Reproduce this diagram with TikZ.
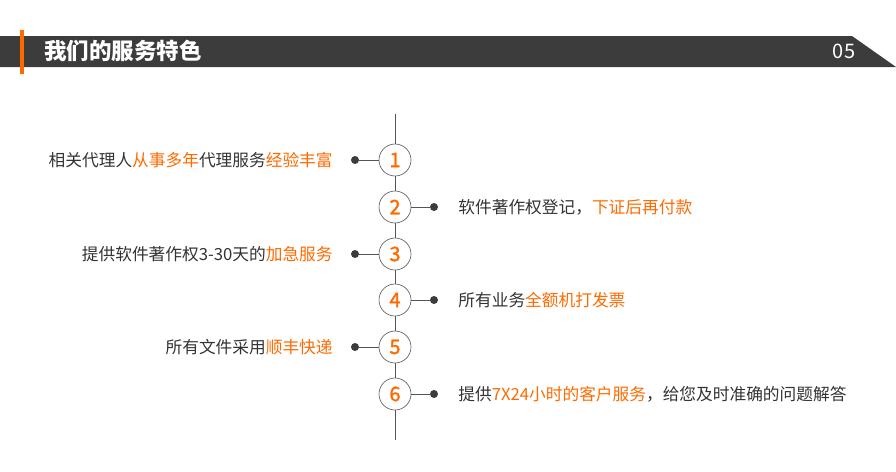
\documentclass[tikz,border=0pt]{standalone}
\usepackage{fontspec}
\setmainfont{Noto Sans CJK SC}
\newfontfamily\numfont[FakeBold=1.5]{Noto Sans CJK SC}
\usetikzlibrary{positioning}
\definecolor{barGray}{HTML}{3C3C3C}
\definecolor{accent}{HTML}{FF6A00}
\definecolor{textGray}{HTML}{333333}
\definecolor{lineGray}{HTML}{555555}
\newcommand{\hl}[1]{\textcolor{accent}{#1}}

\begin{document}
\begin{tikzpicture}[x=1pt,y=-1pt,
  stepcircle/.style={circle,draw=lineGray,line width=0.6pt,fill=white,minimum size=32pt,inner sep=0pt,
    font=\numfont\fontsize{20}{20}\selectfont,text=accent},
  dot/.style={circle,fill=barGray,minimum size=8pt,inner sep=0pt},
  item/.style={font=\fontsize{16.7}{16.7}\selectfont,text=textGray,inner sep=0pt}]
\useasboundingbox (0,0) rectangle (896,471);

% Header bar with orange marker
\fill[barGray] (0,36) -- (852,36) -- (896,67) -- (0,67) -- cycle;
\fill[accent] (20,30) rectangle (24,74);
\node[anchor=west,inner sep=0pt,text=white,font=\fontsize{22.5}{22.5}\selectfont\bfseries] (title) at (44,51) {我们的服务特色};
\node[text=white,font=\fontsize{20}{20}\selectfont] (page) at (844,51) {05};

% Spine
\coordinate (top) at (395,114);
\coordinate (bot) at (395,440);
\draw[lineGray,line width=0.6pt] (top) -- (bot);

% Steps
\node[stepcircle] (c1) at (395,160) {1};
\node[stepcircle] (c2) at (395,207) {2};
\node[stepcircle] (c3) at (395,254) {3};
\node[stepcircle] (c4) at (395,300) {4};
\node[stepcircle] (c5) at (395,347) {5};
\node[stepcircle] (c6) at (395,394) {6};

% Left items
\node[dot] (l1) at (355,160) {};
\node[dot] (l3) at (355,254) {};
\node[dot] (l5) at (355,347) {};
\draw[lineGray,line width=0.6pt] (l1) -- (c1);
\draw[lineGray,line width=0.6pt] (l3) -- (c3);
\draw[lineGray,line width=0.6pt] (l5) -- (c5);
\node[item,left=18pt of l1] (t1) {相关代理人\hl{从事多年}代理服务\hl{经验丰富}};
\node[item,left=18pt of l3] (t3) {提供软件著作权3-30天的\hl{加急服务}};
\node[item,left=18pt of l5] (t5) {所有文件采用\hl{顺丰快递}};

% Right items
\node[dot] (r2) at (434,207) {};
\node[dot] (r4) at (434,300) {};
\node[dot] (r6) at (434,394) {};
\draw[lineGray,line width=0.6pt] (c2) -- (r2);
\draw[lineGray,line width=0.6pt] (c4) -- (r4);
\draw[lineGray,line width=0.6pt] (c6) -- (r6);
\node[item,right=20pt of r2] (t2) {软件著作权登记，\hl{下证后再付款}};
\node[item,right=20pt of r4] (t4) {所有业务\hl{全额机打发票}};
\node[item,right=20pt of r6] (t6) {提供\hl{7X24小时的客户服务}，给您及时准确的问题解答};
\end{tikzpicture}
\end{document}
